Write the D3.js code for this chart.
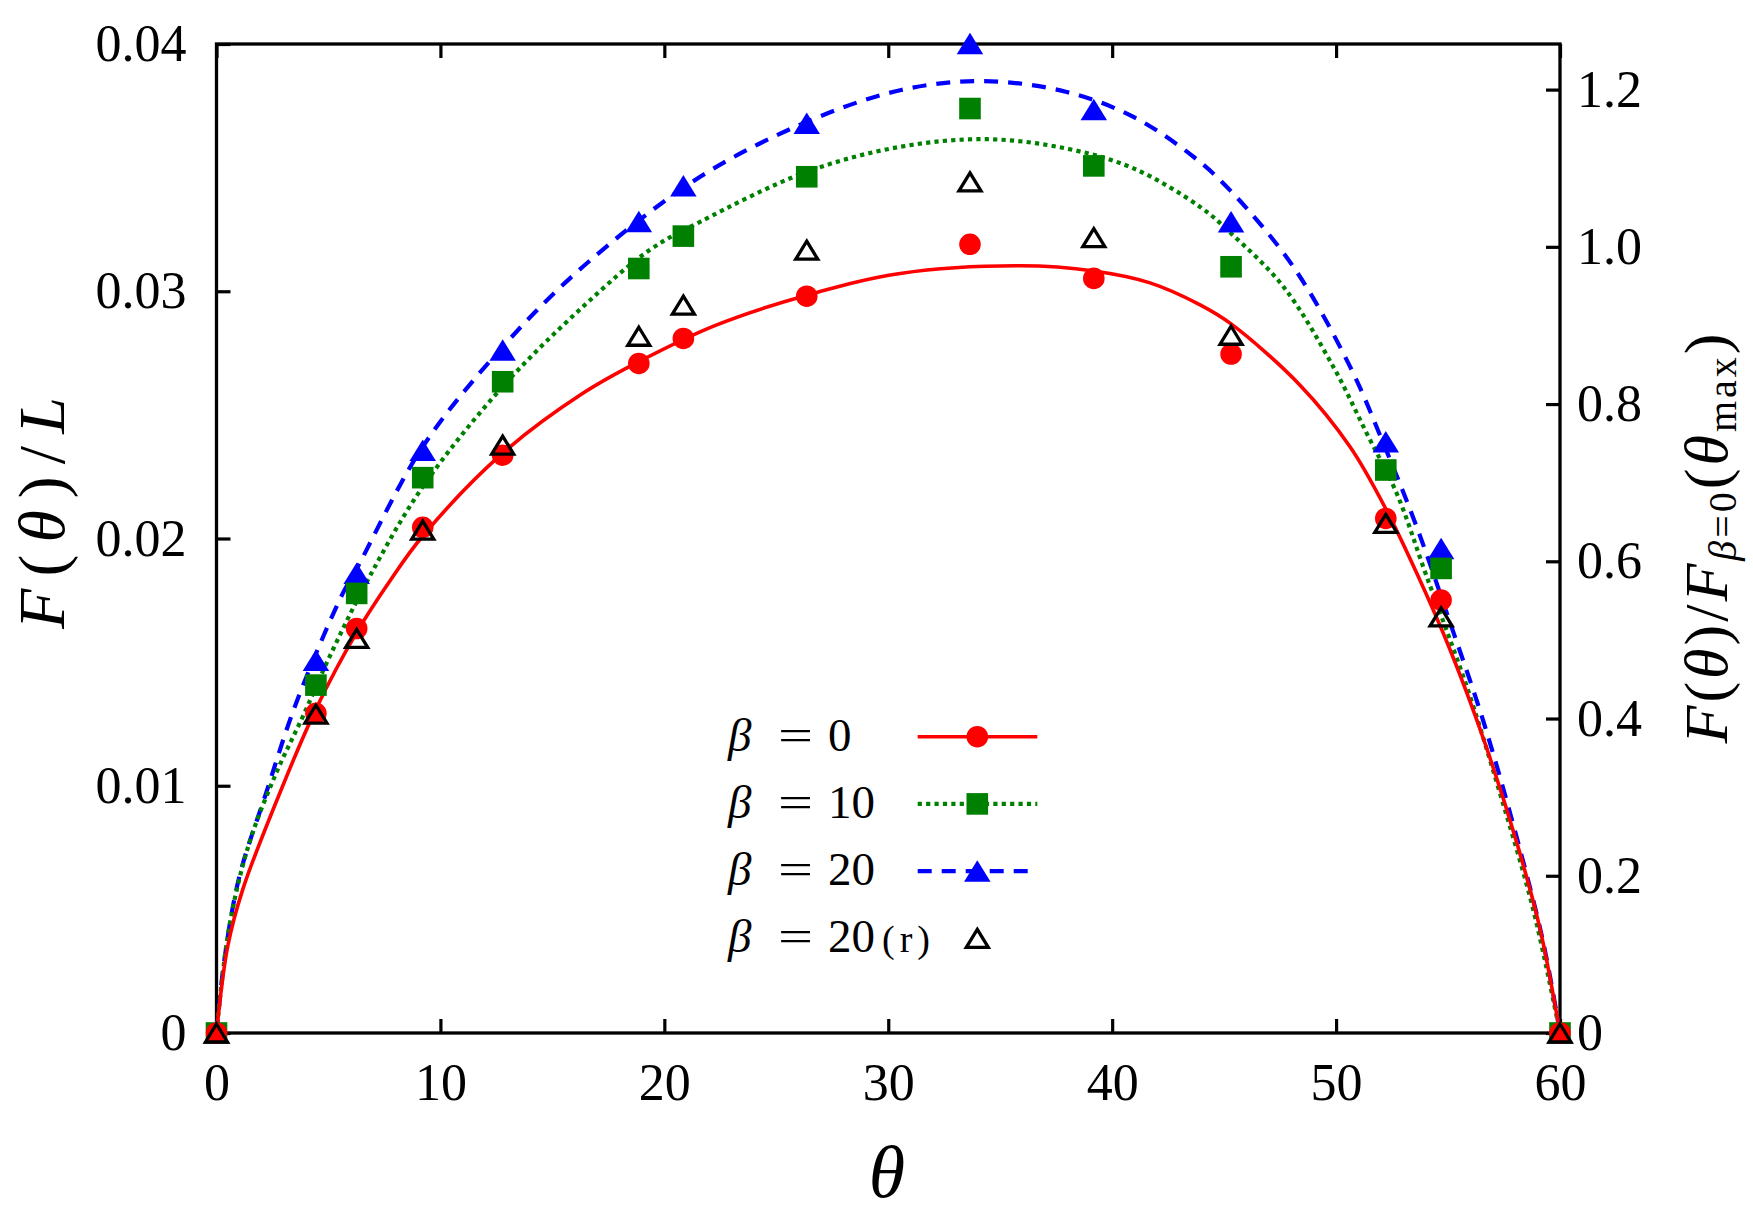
<!DOCTYPE html>
<html>
<head>
<meta charset="utf-8">
<script src="https://cdn.jsdelivr.net/npm/d3@7"></script>
<style>
  body { margin: 0; background: #fff; }
  svg text { font-family: "Liberation Serif", "DejaVu Serif", serif; fill: #000; }
</style>
</head>
<body>
<svg id="chart" width="1753" height="1216"></svg>
<script>
// measured points (theta in degrees, F/L)
const theta   = [0, 4.44, 6.26, 9.21, 12.78, 18.86, 20.85, 26.36, 33.65, 39.18, 45.31, 52.22, 54.69, 60];
const beta0   = [0, 0.01293, 0.01636, 0.02045, 0.02337, 0.02708, 0.02809, 0.02980, 0.03190, 0.03052, 0.02746, 0.02081, 0.01751, 0];
const beta10  = [0, 0.01407, 0.01778, 0.02246, 0.02634, 0.03092, 0.03223, 0.03463, 0.03739, 0.03507, 0.03099, 0.02277, 0.01879, 0];
const beta20  = [0, 0.01508, 0.01859, 0.02357, 0.02762, 0.03282, 0.03427, 0.03679, 0.04002, 0.03735, 0.03281, 0.02391, 0.01960, 0];
const beta20r = [0, 0.01290, 0.01596, 0.02034, 0.02378, 0.02818, 0.02944, 0.03166, 0.03442, 0.03217, 0.02822, 0.02061, 0.01683, 0];

// fitted curves: [theta, F/L]
const fit0 = [[0,0],[0.5,0.0035],[1.17,0.0058],[2.96,0.0100],[4.44,0.0131],[6.26,0.0162],[7.72,0.01825],
  [9.21,0.02010],[12.78,0.02345],[16.36,0.02587],[18.86,0.02715],[22.31,0.02863],[26.36,0.02984],[30.53,0.03072],
  [35.89,0.03103],[39.18,0.03082],[41.69,0.03034],[43.93,0.02945],[45.31,0.02868],[48.39,0.02620],[50.63,0.02370],
  [52.22,0.02120],[53.6,0.0186],[55.09,0.0155],[56.58,0.0119],[58.07,0.0077],[59.11,0.0042],[60,0]];
const fit10 = [[0,0],[0.57,0.0043],[1.46,0.00767],[2.66,0.0105],[3.85,0.01279],[5.04,0.0152],[6.83,0.01845],
  [9.21,0.02209],[12.78,0.02614],[16.36,0.02937],[19.33,0.03166],[21.6,0.03281],[26.36,0.03483],[30.53,0.03584],
  [34.4,0.03615],[37.97,0.03577],[40.95,0.03497],[43.93,0.03341],[45.31,0.03234],[47.65,0.03018],[49.88,0.02694],
  [51.37,0.02425],[52.71,0.02182],[54.05,0.01845],[55.84,0.014],[57.32,0.00969],[58.81,0.00497],[60,0]];
const fit20 = [[0,0],[0.35,0.00295],[1.02,0.00632],[2.21,0.00969],[3.55,0.01333],[5.64,0.01778],[6.23,0.01872],
  [9.21,0.02371],[12.78,0.02775],[16.36,0.03099],[21.6,0.03463],[26.36,0.03685],[30.53,0.03813],[34.25,0.0385],
  [37.97,0.03806],[40.95,0.03705],[43.63,0.03544],[45.26,0.03409],[48.09,0.03099],[50.63,0.02694],[52.11,0.02385],
  [53.6,0.02047],[55.09,0.01660],[56.58,0.0126],[58.07,0.00790],[59.26,0.00363],[60,0]];

const xTicks = [0, 10, 20, 30, 40, 50, 60];
const yTicks = [0, 0.01, 0.02, 0.03, 0.04];
const y2Ticks = [0, 0.2, 0.4, 0.6, 0.8, 1.0, 1.2];
const legendNums = ['0', '10', '20', '20'];

const svg = d3.select('#chart');
const area = { left: 216.5, right: 1560, top: 44, bottom: 1033 };

const x = d3.scaleLinear().domain([0, 60]).range([area.left, area.right]);
const y = d3.scaleLinear().domain([0, 0.04]).range([area.bottom, area.top]);
const y2 = d3.scaleLinear().domain([0, 1.258]).range([area.bottom, area.top]);

function styleAxis(g) {
  g.attr('font-family', null).attr('font-size', null);
  g.select('.domain').remove();
  g.selectAll('.tick line').attr('stroke', '#000').attr('stroke-width', 3.2);
  g.selectAll('.tick text').attr('font-size', 52).attr('fill', '#000');
}

const fmtNum = (p) => (d) => d === 0 ? '0' : d3.format(p)(d);

svg.append('g')
  .attr('transform', `translate(0,${area.bottom})`)
  .call(d3.axisBottom(x).tickValues(xTicks).tickSize(-14).tickPadding(30).tickFormat(d3.format('d')))
  .call(styleAxis);
svg.append('g')
  .attr('transform', `translate(0,${area.top})`)
  .call(d3.axisTop(x).tickValues(xTicks).tickSize(-14).tickFormat(''))
  .call(styleAxis);
svg.append('g')
  .attr('transform', `translate(${area.left},0)`)
  .call(d3.axisLeft(y).tickValues(yTicks).tickSize(-14).tickPadding(30).tickFormat(fmtNum('.2f')))
  .call(styleAxis);
svg.append('g')
  .attr('transform', `translate(${area.right},0)`)
  .call(d3.axisRight(y2).tickValues(y2Ticks).tickSize(-14).tickPadding(17).tickFormat(fmtNum('.1f')))
  .call(styleAxis);

svg.append('rect')
  .attr('x', area.left).attr('y', area.top)
  .attr('width', area.right - area.left).attr('height', area.bottom - area.top)
  .attr('fill', 'none').attr('stroke', '#000').attr('stroke-width', 3.3);

const series = [
  { vals: beta0,  fit: fit0,  color: '#ff0000', width: 3.6, dash: null,      marker: 'circle' },
  { vals: beta10, fit: fit10, color: '#008000', width: 4.2, dash: '4.2,4.2', marker: 'square' },
  { vals: beta20, fit: fit20, color: '#0000ff', width: 4.2, dash: '14,10',   marker: 'tri' },
  { vals: beta20r, fit: null, color: '#000000', width: 0,   dash: null,      marker: 'opentri' },
];

function triPath(w, h) {
  return `M0,${-h / 2}L${w / 2},${h / 2}L${-w / 2},${h / 2}Z`;
}

function drawMarker(g, type, cx, cy, color) {
  if (type === 'circle') {
    g.append('circle').attr('cx', cx).attr('cy', cy).attr('r', 10.8).attr('fill', color);
  } else if (type === 'square') {
    g.append('rect').attr('x', cx - 10.8).attr('y', cy - 10.8).attr('width', 21.6).attr('height', 21.6).attr('fill', color);
  } else if (type === 'tri') {
    g.append('path').attr('d', triPath(26.5, 21.5)).attr('transform', `translate(${cx},${cy})`).attr('fill', color);
  } else {
    g.append('path').attr('d', triPath(22, 18)).attr('transform', `translate(${cx},${cy})`)
      .attr('fill', 'none').attr('stroke', color).attr('stroke-width', 3.3);
  }
}

const line = d3.line().x(d => x(d[0])).y(d => y(d[1])).curve(d3.curveCatmullRom.alpha(0.5));

// lines first (blue under green under red), then the markers
const plot = svg.append('g');
[2, 1, 0].forEach(i => {
  const s = series[i];
  plot.append('path')
    .attr('d', line(s.fit))
    .attr('fill', 'none')
    .attr('stroke', s.color)
    .attr('stroke-width', s.width)
    .attr('stroke-dasharray', s.dash);
});
[2, 1, 0, 3].forEach(i => {
  const s = series[i];
  const pg = plot.append('g');
  s.vals.forEach((v, j) => drawMarker(pg, s.marker, x(theta[j]), y(v), s.color));
});

// legend
const legend = svg.append('g');
legendNums.forEach((num, i) => {
  const cy = 736.7 + i * 67.2;
  const s = series[i];
  legend.append('text').attr('x', 728).attr('y', cy + 14).attr('font-size', 47)
    .attr('font-style', 'italic').text('β');
  legend.append('text').attr('transform', `translate(778,${cy + 14}) scale(1.35,1)`)
    .attr('font-size', 46).text('=');
  const t = legend.append('text').attr('x', 828).attr('y', cy + 14).attr('font-size', 47).text(num);
  if (i === 3) {
    t.append('tspan').attr('x', 882).attr('font-size', 38).attr('letter-spacing', 5).text('(r)');
  }
  if (s.fit) {
    legend.append('line')
      .attr('x1', 917.7).attr('x2', 1037.3).attr('y1', cy).attr('y2', cy)
      .attr('stroke', s.color).attr('stroke-width', s.width).attr('stroke-dasharray', s.dash);
  }
  drawMarker(legend, s.marker, 977.3, cy, s.color);
});

// axis titles
svg.append('text')
  .attr('x', 887).attr('y', 1197)
  .attr('text-anchor', 'middle').attr('font-size', 74).attr('font-style', 'italic')
  .text('θ');

const yl = svg.append('text')
  .attr('transform', 'translate(64,507) rotate(-90)')
  .attr('text-anchor', 'middle').attr('font-size', 66).attr('letter-spacing', 12);
yl.append('tspan').attr('font-style', 'italic').text('F');
yl.append('tspan').text('(');
yl.append('tspan').attr('font-style', 'italic').text('θ');
yl.append('tspan').text(')');
yl.append('tspan').text('/');
yl.append('tspan').attr('font-style', 'italic').text('L');

const yr = svg.append('text')
  .attr('transform', 'translate(1727,537) rotate(-90)')
  .attr('text-anchor', 'middle').attr('font-size', 62).attr('letter-spacing', 3);
yr.append('tspan').attr('font-style', 'italic').text('F');
yr.append('tspan').text('(');
yr.append('tspan').attr('font-style', 'italic').text('θ');
yr.append('tspan').text(')/');
yr.append('tspan').attr('font-style', 'italic').text('F');
yr.append('tspan').attr('font-size', 40).attr('dy', 9).attr('font-style', 'italic').text('β');
yr.append('tspan').attr('font-size', 40).text('=0');
yr.append('tspan').attr('dy', -9).text('(');
yr.append('tspan').attr('font-style', 'italic').text('θ');
yr.append('tspan').attr('font-size', 40).attr('dy', 9).text('max');
yr.append('tspan').attr('dy', -9).text(')');
</script>
</body>
</html>
